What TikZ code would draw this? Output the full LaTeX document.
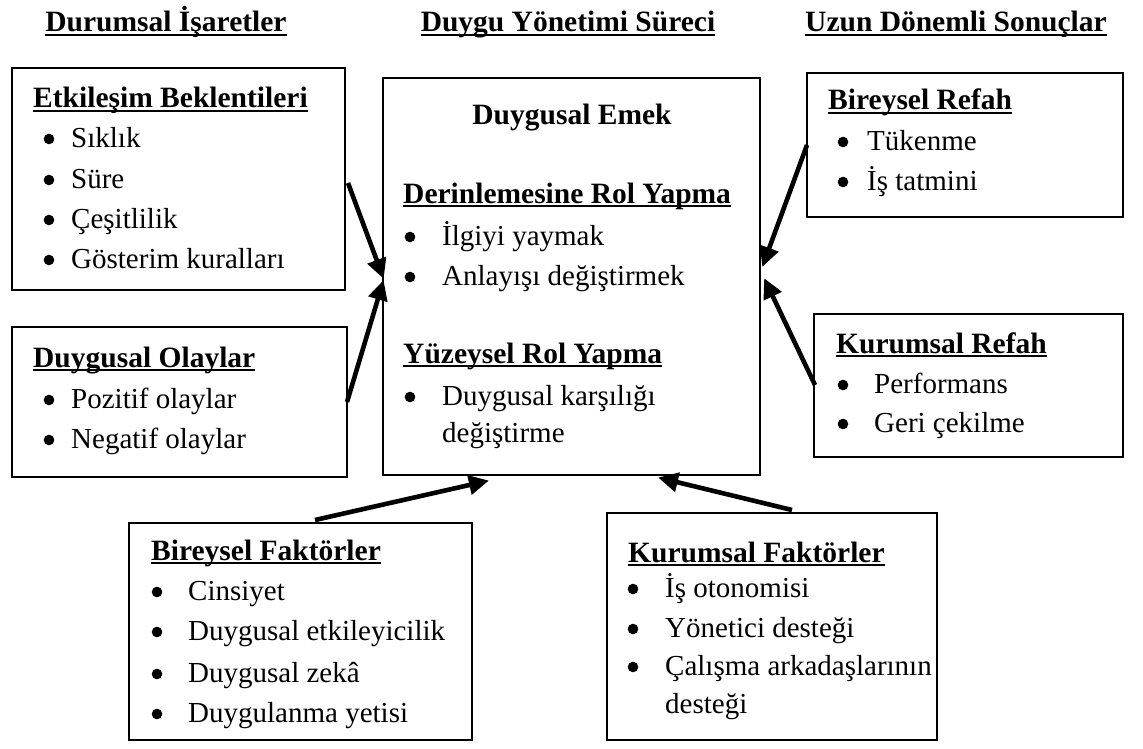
\documentclass[tikz,border=0pt]{standalone}
\usepackage{fontspec}
\setmainfont{Liberation Serif}
\usetikzlibrary{arrows.meta}
\newcommand\ult[1]{\setbox0=\hbox{#1}\rlap{\rule[-4.2pt]{\wd0}{2.2pt}}\box0}
\tikzset{
  box/.style={draw=black, line width=2.2pt, inner sep=0pt, outer sep=0pt, anchor=north west},
  txt/.style={anchor=base west, inner sep=0pt, font=\fontsize{29}{36}\selectfont},
  ttl/.style={anchor=base west, inner sep=0pt, font=\fontsize{29.5}{36}\selectfont\bfseries},
  hdr/.style={anchor=base, inner sep=0pt, font=\fontsize{29.5}{36}\selectfont\bfseries},
  arr/.style={line width=4.6pt, -{Triangle[length=20pt,width=19pt]}, shorten >=-2pt}
}
\newcommand\bul[2]{\fill[black] (#1,#2-8) circle (5.3pt);}
\begin{document}
\begin{tikzpicture}[x=1pt,y=-1pt]
\useasboundingbox (0,0) rectangle (1143,749);
% headers
\node[hdr] (h1) at (166,32) {\ult{Durumsal İşaretler}};
\node[hdr] (h2) at (568,32) {\ult{Duygu Yönetimi Süreci}};
\node[hdr] (h3) at (956,32) {\ult{Uzun Dönemli Sonuçlar}};
% boxes
\node[box, minimum width=333pt, minimum height=222pt] (b1) at (12,68) {};
\node[box, minimum width=335pt, minimum height=150pt] (b2) at (12,327) {};
\node[box, minimum width=377pt, minimum height=397pt] (c) at (383,78) {};
\node[box, minimum width=316pt, minimum height=144pt] (r1) at (807,73) {};
\node[box, minimum width=309pt, minimum height=143pt] (r2) at (814,314) {};
\node[box, minimum width=343pt, minimum height=217pt] (f1) at (129,523) {};
\node[box, minimum width=330pt, minimum height=227pt] (f2) at (607,513) {};
% box 1
\node[ttl] (t1) at (33,108) {\ult{Etkileşim Beklentileri}};
\foreach \y/\t [count=\i] in {147/Sıklık,188/Süre,228/Çeşitlilik,268/Gösterim kuralları}{
  \bul{49}{\y}
  \node[txt] (b1t\i) at (71,\y) {\t};
}
% box 2
\node[ttl] (t2) at (33,367) {\ult{Duygusal Olaylar}};
\foreach \y/\t [count=\i] in {408/Pozitif olaylar,448/Negatif olaylar}{
  \bul{49}{\y}
  \node[txt] (b2t\i) at (71,\y) {\t};
}
% center
\node[hdr] (ct) at (572,125) {Duygusal Emek};
\node[ttl] (ct1) at (403,203) {\ult{Derinlemesine Rol Yapma}};
\bul{410}{245}
\node[txt] (cx1) at (442,245) {İlgiyi yaymak};
\bul{410}{285}
\node[txt] (cx2) at (442,285) {Anlayışı değiştirmek};
\node[ttl] (ct2) at (403,363) {\ult{Yüzeysel Rol Yapma}};
\bul{410}{405}
\node[txt] (cx3) at (442,405) {Duygusal karşılığı};
\node[txt] (cx4) at (442,442) {değiştirme};
% right 1
\node[ttl] (rt1) at (828,110) {\ult{Bireysel Refah}};
\bul{843}{150}
\node[txt] (r1t1) at (867,150) {Tükenme};
\bul{843}{190}
\node[txt] (r1t2) at (867,190) {İş tatmini};
% right 2
\node[ttl] (rt2) at (836,353) {\ult{Kurumsal Refah}};
\bul{843}{393}
\node[txt] (r2t1) at (874,393) {Performans};
\bul{843}{432}
\node[txt] (r2t2) at (874,432) {Geri çekilme};
% bottom left
\node[ttl] (ft1) at (151,560) {\ult{Bireysel Faktörler}};
\foreach \y/\t [count=\i] in {600/Cinsiyet,640/Duygusal etkileyicilik,682/Duygusal zekâ,722/Duygulanma yetisi}{
  \bul{157}{\y}
  \node[txt] (f1t\i) at (188,\y) {\t};
}
% bottom right
\node[ttl] (ft2) at (628,562) {\ult{Kurumsal Faktörler}};
\foreach \y/\t [count=\i] in {597/İş otonomisi,637/Yönetici desteği,675/Çalışma arkadaşlarının}{
  \bul{633}{\y}
  \node[txt] (f2t\i) at (665,\y) {\t};
}
\node[txt] (f2t4) at (665,713) {desteği};
% arrow coordinates
\coordinate (a1s) at (348,183); \coordinate (a1e) at (383,277);
\coordinate (a2s) at (347,402); \coordinate (a2e) at (383,282);
\coordinate (a3s) at (807,145); \coordinate (a3e) at (763,265);
\coordinate (a4s) at (815,385); \coordinate (a4e) at (765,280);
\coordinate (a5s) at (315,520); \coordinate (a5e) at (487,481);
\coordinate (a6s) at (792,510); \coordinate (a6e) at (660,478);
\draw[arr] (a1s) -- (a1e);
\draw[arr] (a2s) -- (a2e);
\draw[arr] (a3s) -- (a3e);
\draw[arr] (a4s) -- (a4e);
\draw[arr] (a5s) -- (a5e);
\draw[arr] (a6s) -- (a6e);
\end{tikzpicture}
\end{document}
